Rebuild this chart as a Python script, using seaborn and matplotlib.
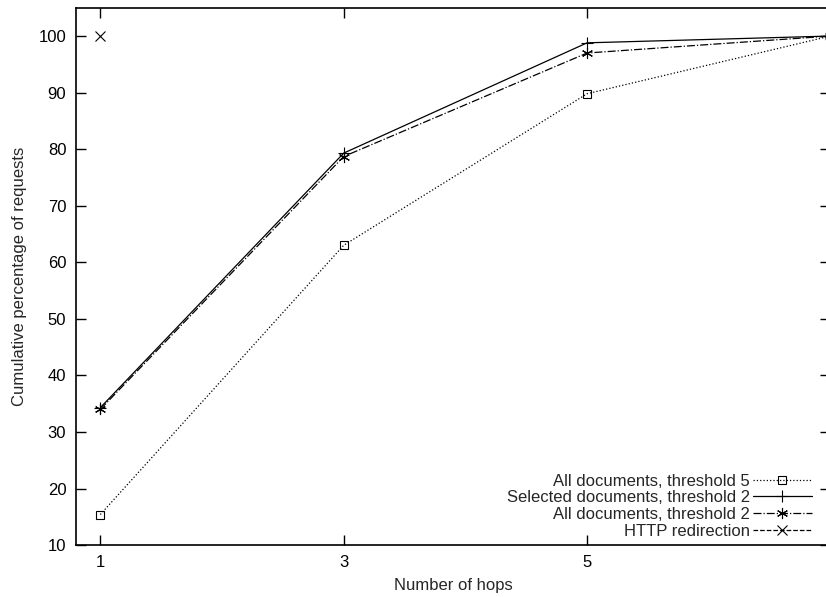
import matplotlib
matplotlib.use("Agg")
import matplotlib.pyplot as plt
import seaborn as sns

hops = [1, 3, 5, 7]
all_t5 = [15.4, 63.0, 89.8, 100.0]
sel_t2 = [34.3, 79.3, 98.8, 100.0]
all_t2 = [34.0, 78.7, 97.0, 100.0]
http_hops = [1]
http_redir = [100.0]

sns.set_style("ticks")
plt.rcParams["font.family"] = ["Liberation Sans", "DejaVu Sans"]
plt.rcParams["font.size"] = 12

fig = plt.figure(figsize=(8.26, 5.97), dpi=100)
# right spine sits just past the image edge, as in the reference
ax = fig.add_axes([0.092, 0.087, 0.9134, 0.9])

star = (6, 2, 0)
series = [
    (hops, all_t5, "All documents, threshold 5", ":", "s", "none", 6),
    (hops, sel_t2, "Selected documents, threshold 2", "-", "+", "black", 8),
    (hops, all_t2, "All documents, threshold 2", "-.", star, "black", 8),
    (http_hops, http_redir, "HTTP redirection", "--", "x", "black", 7),
]
for xs, ys, label, ls, mk, mfc, ms in series:
    sns.lineplot(x=xs, y=ys, ax=ax, label=label, color="black",
                 linestyle=ls, linewidth=0.9, marker=mk, markersize=ms,
                 markerfacecolor=mfc, markeredgecolor="black",
                 markeredgewidth=0.8)

ax.set_xlim(0.8, 7)
ax.set_ylim(10, 105)
ax.set_xticks([1, 3, 5])
ax.set_yticks(range(10, 101, 10))
ax.tick_params(direction="in", length=7, width=1, top=True, right=True,
               labelsize=12, pad=7, colors="black")
for sp in ax.spines.values():
    sp.set_linewidth(1.2)
    sp.set_color("black")
ax.set_xlabel("Number of hops", fontsize=12, labelpad=6)
ax.set_ylabel("Cumulative percentage of requests", fontsize=12, labelpad=8)

leg = ax.legend(loc="lower right", bbox_to_anchor=(0.975, 0.012),
                frameon=False, markerfirst=False, fontsize=12,
                handlelength=3.5, labelspacing=0.1, borderpad=0,
                borderaxespad=0, handletextpad=0.2)

fig.savefig("out.png", dpi=100)
